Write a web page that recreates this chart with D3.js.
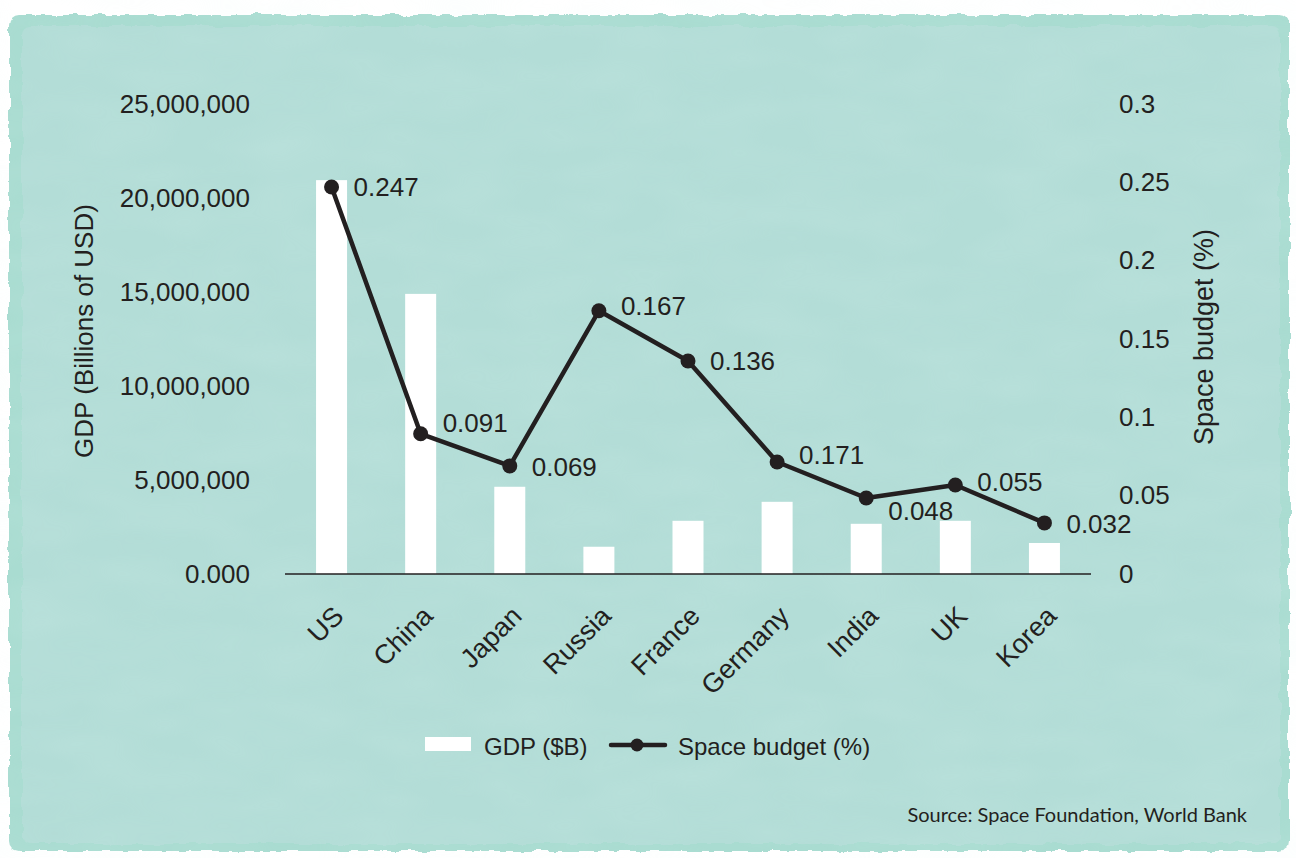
<!DOCTYPE html>
<html>
<head>
<meta charset="utf-8">
<script src="https://cdn.jsdelivr.net/npm/d3@7"></script>
<style>
  html, body { margin: 0; padding: 0; background: #ffffff; }
  svg { display: block; }
</style>
</head>
<body>
<svg id="chart" width="1296" height="858"></svg>
<script>
// ---- data ----
const categories = ["US", "China", "Japan", "Russia", "France", "Germany", "India", "UK", "Korea"];
const gdpValues = [20950000, 14900000, 4640000, 1450000, 2830000, 3840000, 2670000, 2830000, 1650000];
const spaceBudget = [0.247, 0.0895, 0.069, 0.168, 0.136, 0.0715, 0.0485, 0.0568, 0.0326];
const spaceLabels = ["0.247", "0.091", "0.069", "0.167", "0.136", "0.171", "0.048", "0.055", "0.032"];
const leftTicks = [0, 5000000, 10000000, 15000000, 20000000, 25000000];
const leftTickLabels = ["0.000", "5,000,000", "10,000,000", "15,000,000", "20,000,000", "25,000,000"];
const rightTicks = [0, 0.05, 0.1, 0.15, 0.2, 0.25, 0.3];
const rightTickLabels = ["0", "0.05", "0.1", "0.15", "0.2", "0.25", "0.3"];
const labelNudgeY = [0, -11, 1, -5, 0, -7, 13, -3, 1];

// ---- setup ----
const svg = d3.select("#chart");
const ink = "#231f20";
const font = "'Liberation Sans', Arial, sans-serif";

const defs = svg.append("defs");
const rough = defs.append("filter").attr("id", "rough")
  .attr("x", "-5%").attr("y", "-5%").attr("width", "110%").attr("height", "110%");
rough.append("feTurbulence").attr("type", "fractalNoise").attr("baseFrequency", "0.06")
  .attr("numOctaves", 3).attr("seed", 4).attr("result", "noise");
rough.append("feDisplacementMap").attr("in", "SourceGraphic").attr("in2", "noise")
  .attr("scale", 7).attr("xChannelSelector", "R").attr("yChannelSelector", "G");

const tex = defs.append("filter").attr("id", "tex");
tex.append("feTurbulence").attr("type", "fractalNoise").attr("baseFrequency", "0.012 0.03")
  .attr("numOctaves", 2).attr("seed", 9);
tex.append("feColorMatrix").attr("type", "matrix")
  .attr("values", "0 0 0 0 0.75  0 0 0 0 0.93  0 0 0 0 0.9  0 0 0 0.35 -0.1");

// background card
const bg = svg.append("g").attr("filter", "url(#rough)");
bg.append("rect").attr("x", 9).attr("y", 15).attr("width", 1280).attr("height", 836)
  .attr("rx", 10).attr("fill", "#a9dcd1");
bg.append("rect").attr("x", 22).attr("y", 26).attr("width", 1258).attr("height", 818)
  .attr("rx", 8).attr("fill", "#b3ddd7");
svg.append("rect").attr("x", 22).attr("y", 26).attr("width", 1258).attr("height", 818)
  .attr("filter", "url(#tex)").attr("opacity", 0.5);

// ---- scales ----
const x = d3.scaleBand().domain(categories).range([287, 1089]).paddingInner(0).paddingOuter(0);
const yL = d3.scaleLinear().domain([0, 25000000]).range([574, 104]);
const yR = d3.scaleLinear().domain([0, 0.3]).range([574, 104]);
const barW = 31;

// bars
svg.append("g").selectAll("rect").data(categories).join("rect")
  .attr("x", (d) => x(d) + x.bandwidth() / 2 - barW / 2)
  .attr("y", (d, i) => yL(gdpValues[i]))
  .attr("width", barW)
  .attr("height", (d, i) => yL(0) - yL(gdpValues[i]))
  .attr("fill", "#ffffff");

// x axis
const xAxis = svg.append("g").attr("transform", `translate(0,${yL(0)})`)
  .call(d3.axisBottom(x).tickSize(0).tickFormat(""));
xAxis.select(".domain").attr("stroke", ink).attr("stroke-width", 1.6).attr("d", "M285,0H1091");

svg.append("g").selectAll("text").data(categories).join("text")
  .attr("transform", (d) => `translate(${x(d) + x.bandwidth() / 2 + 7},${yL(0) + 37}) rotate(-45)`)
  .attr("text-anchor", "end")
  .attr("dy", "0.35em")
  .attr("font-family", font).attr("font-size", 27).attr("fill", ink)
  .text((d) => d);

// left axis
const lAxis = svg.append("g").attr("transform", "translate(250,0)")
  .call(d3.axisLeft(yL).tickValues(leftTicks).tickSize(0).tickPadding(0)
    .tickFormat((d, i) => leftTickLabels[i]));
lAxis.select(".domain").remove();
lAxis.selectAll("text").attr("font-family", font).attr("font-size", 26).attr("fill", ink);

// right axis
const rAxis = svg.append("g").attr("transform", "translate(1119,0)")
  .call(d3.axisRight(yR).tickValues(rightTicks).tickSize(0).tickPadding(0)
    .tickFormat((d, i) => rightTickLabels[i]));
rAxis.select(".domain").remove();
rAxis.selectAll("text").attr("font-family", font).attr("font-size", 26).attr("fill", ink);

// axis titles
svg.append("text").attr("transform", "translate(93,331) rotate(-90)")
  .attr("text-anchor", "middle").attr("font-family", font).attr("font-size", 26).attr("fill", ink)
  .text("GDP (Billions of USD)");
svg.append("text").attr("transform", "translate(1213,337) rotate(-90)")
  .attr("text-anchor", "middle").attr("font-family", font).attr("font-size", 27).attr("fill", ink)
  .text("Space budget (%)");

// line
const pts = categories.map((c, i) => [x(c) + x.bandwidth() / 2, yR(spaceBudget[i])]);
svg.append("path").datum(pts)
  .attr("d", d3.line())
  .attr("fill", "none").attr("stroke", ink).attr("stroke-width", 4.5)
  .attr("stroke-linejoin", "round");
svg.append("g").selectAll("circle").data(pts).join("circle")
  .attr("cx", (d) => d[0]).attr("cy", (d) => d[1]).attr("r", 7.5).attr("fill", ink);

// data labels
svg.append("g").selectAll("text").data(pts).join("text")
  .attr("x", (d) => d[0] + 22)
  .attr("y", (d, i) => d[1] + labelNudgeY[i])
  .attr("dy", "0.35em")
  .attr("font-family", font).attr("font-size", 26).attr("fill", ink)
  .text((d, i) => spaceLabels[i]);

// legend
const lg = svg.append("g");
lg.append("rect").attr("x", 425).attr("y", 737).attr("width", 46).attr("height", 14).attr("fill", "#ffffff");
lg.append("text").attr("x", 484).attr("y", 747).attr("dy", "0.35em")
  .attr("font-family", font).attr("font-size", 24).attr("fill", ink).text("GDP ($B)");
lg.append("line").attr("x1", 611).attr("x2", 665).attr("y1", 745).attr("y2", 745)
  .attr("stroke", ink).attr("stroke-width", 4.5).attr("stroke-linecap", "round");
lg.append("circle").attr("cx", 637).attr("cy", 745).attr("r", 6.5).attr("fill", ink);
lg.append("text").attr("x", 678).attr("y", 747).attr("dy", "0.35em")
  .attr("font-family", font).attr("font-size", 24).attr("fill", ink).text("Space budget (%)");

// source
svg.append("text").attr("x", 1247).attr("y", 822).attr("text-anchor", "end")
  .attr("font-family", "Lato, 'Open Sans', sans-serif").attr("font-size", 20).attr("fill", ink)
  .text("Source: Space Foundation, World Bank");
</script>
</body>
</html>
